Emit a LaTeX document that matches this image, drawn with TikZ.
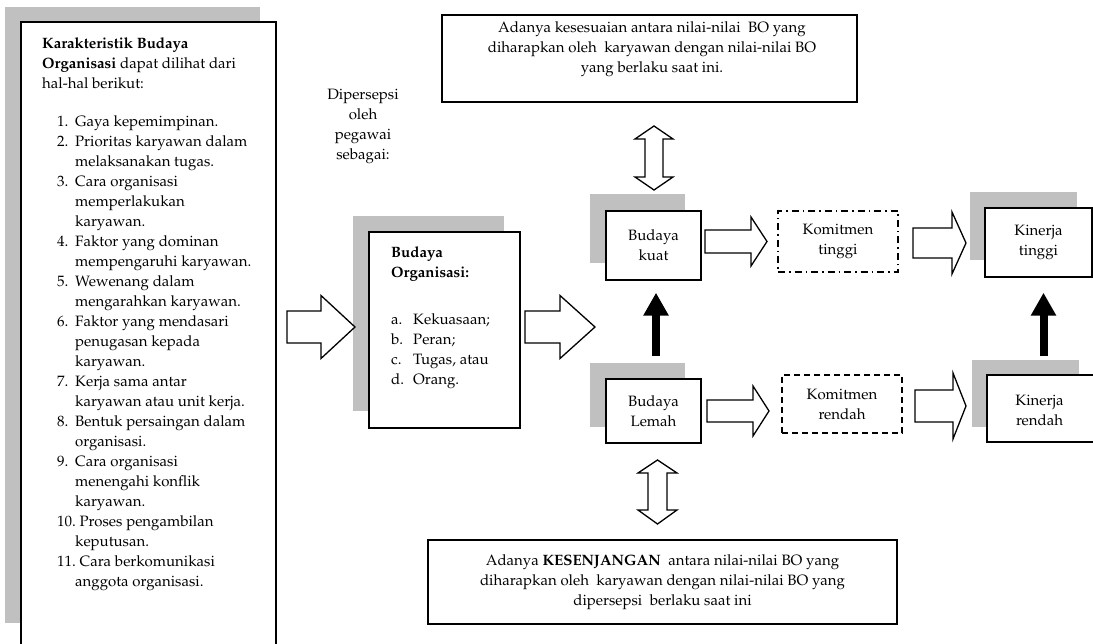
\documentclass[tikz,border=0pt]{standalone}
\usepackage[T1]{fontenc}
\usepackage{mathpazo}
\usetikzlibrary{fit,arrows.meta}
\definecolor{shadowgray}{RGB}{192,192,192}
\newcommand\lnum[1]{\hspace*{15pt}\makebox[18pt][l]{#1}}
\newcommand\lnumw[1]{\hspace*{15pt}#1\ }
\newcommand\lcont{\hspace*{33pt}}
\newcommand\mnum[1]{\makebox[22pt][l]{#1}}
\newcommand\rblock[6]{% x0 xbase xtip yc shafthalf headhalf
  \draw[blockarrow] (#1,{#4-#5}) -- (#2,{#4-#5}) -- (#2,{#4-#6}) -- (#3,#4) -- (#2,{#4+#6}) -- (#2,{#4+#5}) -- (#1,{#4+#5}) -- cycle;}
\newcommand\vdouble[7]{% xc ytop ybase1 ybase2 ybottom shafthalf headhalf
  \draw[blockarrow] (#1,#2) -- ({#1+#7},#3) -- ({#1+#6},#3) -- ({#1+#6},#4) -- ({#1+#7},#4) -- (#1,#5) -- ({#1-#7},#4) -- ({#1-#6},#4) -- ({#1-#6},#3) -- ({#1-#7},#3) -- cycle;}
\tikzset{
  shadowbox/.style={fill=shadowgray,draw=none},
  mainbox/.style={draw=black,line width=1.4pt,fill=white,inner sep=0pt},
  bigbox/.style={draw=black,line width=2.2pt,fill=white,inner sep=0pt},
  dashdotbox/.style={draw=black,line width=1.3pt,inner sep=0pt,dash pattern=on 7pt off 4pt on 1.5pt off 4pt},
  dashbox/.style={draw=black,line width=1.3pt,inner sep=0pt,dash pattern=on 6pt off 4pt},
  blockarrow/.style={draw=black,line width=1.3pt,fill=white,line join=miter},
  bigarrow/.style={draw=black,line width=8pt,-{Triangle[width=24pt,length=23pt]}},
  txt/.style={font=\fontsize{15}{20}\selectfont,inner sep=0pt}
}
\begin{document}
\begin{tikzpicture}[x=1pt,y=-1pt]
\useasboundingbox (0,0) rectangle (1093,644);
% left box
\fill[shadowbox] (5,7) rectangle (260,623);
\node[mainbox, fit={(21,22) (276,660)}] (karak) {};
\node[txt, anchor=north west, align=left] (karaktxt) at (42,37.5) {%
\textbf{Karakteristik Budaya}\\
\textbf{Organisasi} dapat dilihat dari\\
hal-hal berikut:\\[18pt]
\lnum{1.}Gaya kepemimpinan.\\
\lnum{2.}Prioritas karyawan dalam\\
\lcont melaksanakan tugas.\\
\lnum{3.}Cara organisasi\\
\lcont memperlakukan\\
\lcont karyawan.\\
\lnum{4.}Faktor yang dominan\\
\lcont mempengaruhi karyawan.\\
\lnum{5.}Wewenang dalam\\
\lcont mengarahkan karyawan.\\
\lnum{6.}Faktor yang mendasari\\
\lcont penugasan kepada\\
\lcont karyawan.\\
\lnum{7.}Kerja sama antar\\
\lcont karyawan atau unit kerja.\\
\lnum{8.}Bentuk persaingan dalam\\
\lcont organisasi.\\
\lnum{9.}Cara organisasi\\
\lcont menengahi konflik\\
\lcont karyawan.\\
\lnumw{10.}Proses pengambilan\\
\lcont keputusan.\\
\lnumw{11.}Cara berkomunikasi\\
\lcont anggota organisasi.};
% perceived label
\node[txt, align=center] (dipersepsi) at (363,126.5) {Dipersepsi\\oleh\\pegawai\\sebagai:};
% middle box
\fill[shadowbox] (353,216) rectangle (504,411);
\node[mainbox, fit={(369,232) (520,428)}] (org) {};
\node[txt, anchor=north west, align=left] (orgtxt) at (391,246.5) {%
\textbf{Budaya}\\
\textbf{Organisasi:}\\[27pt]
\mnum{a.}Kekuasaan;\\
\mnum{b.}Peran;\\
\mnum{c.}Tugas, atau\\
\mnum{d.}Orang.};
% top and bottom boxes
\node[bigbox, fit={(442,15) (857,102)}] (sesuai) {};
\node[txt, align=center] (sesuaitxt) at (652,49.5) {Adanya kesesuaian antara nilai-nilai\ \ BO yang\\diharapkan oleh\ \ karyawan dengan nilai-nilai BO\\yang berlaku saat ini.};
\node[bigbox, fit={(428,540) (897,624)}] (senjang) {};
\node[txt, align=center] (senjangtxt) at (senjang) {Adanya \textbf{KESENJANGAN}\ \ antara nilai-nilai BO yang\\diharapkan oleh\ \ karyawan dengan nilai-nilai BO yang\\dipersepsi\ \ berlaku saat ini};
% budaya kuat / lemah
\fill[shadowbox] (590,194) rectangle (685,263);
\node[mainbox, fit={(606,211) (701,280)}] (kuat) {};
\node[txt, align=center] at (kuat) {Budaya\\kuat};
\fill[shadowbox] (590,363) rectangle (685,427);
\node[mainbox, fit={(606,379) (701,443)}] (lemah) {};
\node[txt, align=center] at (lemah) {Budaya\\Lemah};
% komitmen
\node[dashdotbox, fit={(778,211) (898,272)}] (ktinggi) {};
\node[txt, align=center] at (ktinggi) {Komitmen\\tinggi};
\node[dashbox, fit={(782,375) (902,433)}] (krendah) {};
\node[txt, align=center] at (krendah) {Komitmen\\rendah};
% kinerja
\fill[shadowbox] (970,192) rectangle (1077,260);
\node[mainbox, fit={(985,208) (1092,277)}] (ntinggi) {};
\node[txt, align=center] at (ntinggi) {Kinerja\\tinggi};
\fill[shadowbox] (972,360) rectangle (1079,427);
\node[mainbox, fit={(987,375) (1100,442)}] (nrendah) {};
\node[txt, align=center] at (1039.5,410) {Kinerja\\rendah};
% block arrows
\rblock{287}{321}{355}{327}{16}{31.5}
\rblock{525}{560}{595}{327}{16}{31.5}
\rblock{705}{751}{767}{241.5}{11.5}{24.5}
\rblock{707}{753}{769}{411}{11}{25}
\rblock{913}{952}{966}{243}{15}{31}
\rblock{915}{953}{966}{406}{16}{33}
\vdouble{654}{126}{139}{177}{190}{9}{19}
\vdouble{657.5}{460}{473}{510}{524}{9.5}{19.5}
% black arrows
\draw[bigarrow, shorten <=22pt, shorten >=12pt] ([xshift=2.5pt]lemah.north) -- ([xshift=2.5pt]kuat.south);
\draw[bigarrow, shorten <=18pt, shorten >=15pt] (nrendah.north -| ntinggi.south) ++(5pt,0) coordinate (nr) -- ([xshift=5pt]ntinggi.south);
\end{tikzpicture}
\end{document}
